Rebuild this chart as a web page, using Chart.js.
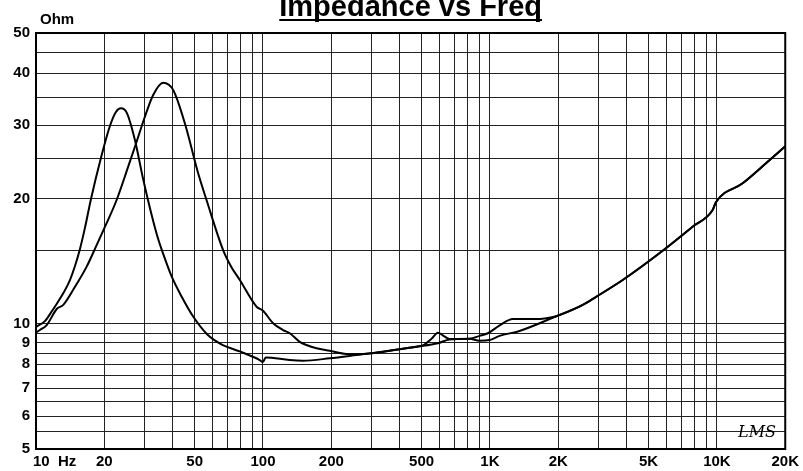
<!DOCTYPE html>
<html>
<head>
<meta charset="utf-8">
<script src="https://cdn.jsdelivr.net/npm/chart.js@4"></script>
<style>
  body { margin: 0; background: #fff; }
  canvas { display: block; }
</style>
</head>
<body>
<canvas id="chart" width="803" height="471"></canvas>
<script>
// curve with the 23 Hz resonance
const freqA = [10, 10.95, 11.76, 12.37, 13.28, 14.11, 14.85, 15.62, 16.43, 17.47, 19.32, 21.17, 22.5, 23.67, 25.15, 27.28, 29.58, 32.08, 34.43, 35.85, 39.68, 43.91, 49.09, 56.57, 61.37, 66.54, 79.07, 96.81, 99.8, 102.9, 131, 150, 197, 258, 338, 474, 507, 553, 590, 625, 664, 813, 900, 979, 1100, 1261, 1600, 1740, 1924, 2564, 2937, 3846, 5578, 7816, 9575, 9900, 12980, 16450, 20000];
const impA = [9.83, 10.15, 10.73, 11.19, 11.92, 12.74, 13.77, 15.13, 17.0, 19.95, 25.03, 29.88, 32.29, 32.96, 32.1, 27.65, 22.41, 18.57, 16.07, 15.04, 12.96, 11.6, 10.44, 9.45, 9.12, 8.89, 8.58, 8.18, 8.09, 8.3, 8.18, 8.15, 8.26, 8.41, 8.57, 8.81, 8.87, 9.2, 9.52, 9.35, 9.19, 9.21, 9.35, 9.49, 9.9, 10.27, 10.27, 10.3, 10.4, 11.1, 11.61, 12.74, 14.77, 17.11, 18.77, 19.6, 21.76, 24.31, 26.7];

// curve with the 36 Hz resonance
const freqB = [10, 10.4, 11.15, 12.34, 13.19, 14.85, 16.72, 18.5, 20.12, 22.66, 25.48, 27.75, 30.18, 32.83, 36.34, 40.21, 45.27, 51.81, 56.4, 66.74, 72.55, 79.07, 93.6, 100, 110.8, 122.6, 131.2, 145.2, 155.4, 172, 196.8, 233.1, 266.7, 337.8, 473.9, 589.8, 664, 813, 900, 996, 1102, 1350, 1924, 2564, 2937, 3846, 5578, 7816, 9575, 9900, 12980, 16450, 20000];
const impB = [9.52, 9.66, 9.93, 10.85, 11.1, 12.27, 13.72, 15.46, 17.09, 19.84, 23.86, 27.39, 31.45, 35.48, 37.96, 36.47, 30.33, 23.0, 19.84, 15.04, 13.7, 12.74, 11.0, 10.75, 10.03, 9.66, 9.49, 9.05, 8.89, 8.73, 8.61, 8.46, 8.45, 8.57, 8.81, 8.98, 9.17, 9.2, 9.1, 9.14, 9.35, 9.61, 10.38, 11.1, 11.61, 12.74, 14.77, 17.11, 18.77, 19.6, 21.76, 24.31, 26.7];

const xTicks = [10, 20, 30, 40, 50, 60, 70, 80, 90, 100, 200, 300, 400, 500, 600, 700, 800, 900, 1000, 2000, 3000, 4000, 5000, 6000, 7000, 8000, 9000, 10000, 20000];
const xTickLabels = ['10  Hz', '20', '', '', '50', '', '', '', '', '100', '200', '', '', '500', '', '', '', '', '1K', '2K', '', '', '5K', '', '', '', '', '10K', '20K'];
const yTicks = [5, 5.5, 6, 6.5, 7, 7.5, 8, 8.5, 9, 9.5, 10, 15, 20, 25, 30, 35, 40, 45, 50];
const yTickLabels = ['5', '', '6', '', '7', '', '8', '', '9', '', '10', '', '20', '', '30', '', '40', '', '50'];

const TITLE = 'Impedance vs Freq';
const UNIT = 'Ohm';
const FONT = '"Liberation Sans", Arial, sans-serif';

const toPoints = (xs, ys) => xs.map((x, i) => ({ x: x, y: ys[i] }));

const decor = {
  id: 'decor',
  afterDraw(chart) {
    const ctx = chart.ctx;
    const a = chart.chartArea;
    ctx.save();
    // frame
    ctx.strokeStyle = '#000';
    ctx.lineWidth = 2;
    ctx.strokeRect(a.left, a.top, a.right - a.left, a.bottom - a.top);

    // title, underlined
    ctx.fillStyle = '#000';
    ctx.font = 'bold 29px ' + FONT;
    ctx.textAlign = 'center';
    ctx.textBaseline = 'alphabetic';
    const cx = (a.left + a.right) / 2;
    ctx.fillText(TITLE, cx, 16);
    const w = ctx.measureText(TITLE).width;
    ctx.fillRect(cx - w / 2, 19, w, 2);

    // unit label
    ctx.font = 'bold 15px ' + FONT;
    ctx.textAlign = 'left';
    ctx.textBaseline = 'middle';
    ctx.fillText(UNIT, 40, 20);

    // first x label sits to the right of its tick
    ctx.fillText(xTickLabels[0], 33, 462);

    // LMS mark
    ctx.font = 'italic 16px "DejaVu Serif", serif';
    ctx.fillText('LMS', 738, 433);
    ctx.restore();
  }
};

new Chart(document.getElementById('chart'), {
  type: 'line',
  data: {
    datasets: [
      { data: toPoints(freqA, impA), borderColor: '#000', borderWidth: 2, pointRadius: 0, cubicInterpolationMode: 'monotone', fill: false },
      { data: toPoints(freqB, impB), borderColor: '#000', borderWidth: 2, pointRadius: 0, cubicInterpolationMode: 'monotone', fill: false }
    ]
  },
  options: {
    responsive: false,
    animation: false,
    layout: { padding: { top: 33, right: 17, left: 0, bottom: 0 } },
    plugins: { legend: { display: false }, tooltip: { enabled: false } },
    scales: {
      x: {
        type: 'logarithmic',
        min: 10,
        max: 20000,
        afterBuildTicks: s => { s.ticks = xTicks.map(v => ({ value: v })); },
        afterFit: s => { s.height = 22; },
        grid: { color: '#222', lineWidth: 1, drawTicks: false },
        border: { display: true, color: '#000', width: 2 },
        ticks: {
          autoSkip: false,
          maxRotation: 0,
          padding: 4,
          color: '#000',
          font: { family: FONT, size: 15, weight: 'bold' },
          callback: (v, i) => (i === 0 ? '' : xTickLabels[i])
        }
      },
      y: {
        type: 'logarithmic',
        min: 5,
        max: 50,
        afterBuildTicks: s => { s.ticks = yTicks.map(v => ({ value: v })); },
        afterFit: s => { s.width = 36; },
        grid: { color: '#222', lineWidth: 1, drawTicks: false },
        border: { display: true, color: '#000', width: 2 },
        ticks: {
          autoSkip: false,
          padding: 6,
          color: '#000',
          font: { family: FONT, size: 15, weight: 'bold' },
          callback: (v, i) => yTickLabels[i]
        }
      }
    }
  },
  plugins: [decor]
});
</script>
</body>
</html>
